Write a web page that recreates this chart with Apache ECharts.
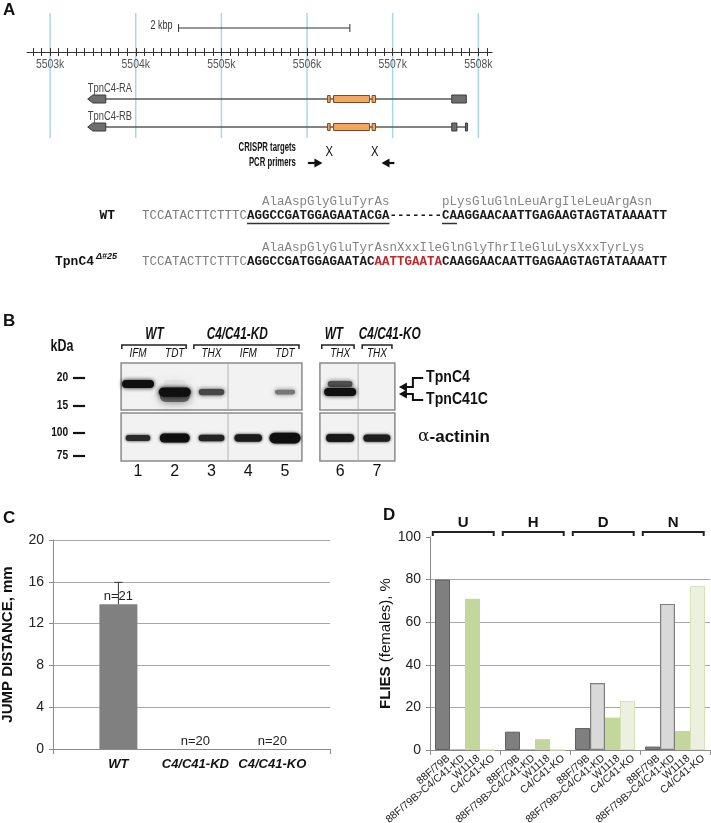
<!DOCTYPE html>
<html><head><meta charset="utf-8">
<script src="https://cdn.jsdelivr.net/npm/echarts@6/dist/echarts.min.js"></script>
<style>html,body{margin:0;padding:0;background:#fff}#c{width:711px;height:823px}</style>
</head><body><div id="c"></div>
<script>
// ================= DATA =================
// Panel A – genomic map (kbp)
const mapMin = 5502.73, mapMax = 5508.16;
const majorTicks = [5503, 5504, 5505, 5506, 5507, 5508];
const scaleBar = [5504.5, 5506.5];
const transcripts = ['TpnC4-RA', 'TpnC4-RB'];
const transcriptSpans = [[5503.44, 5507.86], [5503.44, 5507.87]];
const exons = [ // [transcript, start, end, kind]
  [0, 5503.44, 5503.65, 'arrow'], [0, 5506.24, 5506.27, 'cds'], [0, 5506.31, 5506.73, 'cds'], [0, 5506.76, 5506.80, 'cds'], [0, 5507.69, 5507.86, 'utr'],
  [1, 5503.44, 5503.65, 'arrow'], [1, 5506.24, 5506.27, 'cds'], [1, 5506.31, 5506.73, 'cds'], [1, 5506.76, 5506.80, 'cds'], [1, 5507.69, 5507.75, 'utr'], [1, 5507.85, 5507.87, 'utr']
];
const crisprTargets = [5506.26, 5506.79];
const primers = [[5506.01, 5506.18, 'right'], [5506.87, 5507.02, 'left']];
const annotLabels = ['CRISPR targets', 'PCR primers'];
const annotRight = 5505.87;

// Sequences
const wtSeq = [['TCCATACTTCTTTC', 'p'], ['AGGCCGATGGAGAATACGA', 'b'], ['-------', 'b'], ['CAAGGAACAATTGAGAAGTAGTATAAAATT', 'b']];
const mutSeq = [['TCCATACTTCTTTC', 'p'], ['AGGCCGATGGAGAATAC', 'b'], ['AATTGAATA', 'r'], ['CAAGGAACAATTGAGAAGTAGTATAAAATT', 'b']];
const wtAmino = [['AlaAspGlyGluTyrAs', 16], ['pLysGluGlnLeuArgIleLeuArgAsn', 40]];
const mutAmino = [['AlaAspGlyGluTyrAsnXxxIleGlnGlyThrIleGluLysXxxTyrLys', 16]];
const wtUnderlines = [[14, 33], [40, 42]];

// Panel B – western blot
const laneNumbers = ['1', '2', '3', '4', '5', '6', '7'];
const tissues = ['IFM', 'TDT', 'THX', 'IFM', 'TDT', 'THX', 'THX'];
const blotGroups = [['WT', 1.45, 0.56, 2.31], ['C4/C41-KD', 3.7, 2.52, 5.38], ['WT', 6.33, 6.0, 6.88], ['C4/C41-KO', 7.85, 7.1, 7.91]];
const kdaMarkers = [['20', 15], ['15', 43], ['100', 70], ['75', 93]];
const tpncBands = [[0, 0, 1.0], [1, 1, 1.25], [2, 1, 0.65], [4, 1, 0.35], [5, 0, 0.6], [5, 1, 1.0]]; // [lane, form(0=TpnC4,1=TpnC41C), intensity]
const actininBands = [0.55, 1.0, 0.65, 0.8, 1.25, 0.85, 0.75];
const blotBandNames = ['TpnC4', 'TpnC41C'];

// Panel C – jump distance
const cCategories = ['WT', 'C4/C41-KD', 'C4/C41-KO'];
const cMeans = [13.85, 0, 0];
const cErr = [2.1, 0, 0];
const cN = ['n=21', 'n=20', 'n=20'];

// Panel D – flight test
const dGroups = ['U', 'H', 'D', 'N'];
const dSeries = ['88F/79B', '88F/79B>C4/C41-KD', 'W1118', 'C4/C41-KO'];
const d88F79B = [80, 8.6, 10.3, 1.6];
const dKD = [0, 0, 31.4, 68.6];
const dW1118 = [71, 5.1, 15.2, 8.9];
const dKO = [0, 0, 23, 77];

// ================= LAYOUT / STYLE =================
const SANS = '"Liberation Sans", Arial, sans-serif';
const MONO = '"Liberation Mono", "Courier New", monospace';
const trackY = [86, 114];
const lanePos = [1, 2, 3, 4, 5, 6.5, 7.5];
const bandRowY = [21, 29];
const actininRowY = 75;
const seqX = 142, charW = 7.5;

const minorTicks = [];
for (let t = 55028; t <= 55081; t++) minorTicks.push(t / 10);

function txt(x, y, text, font, fill, align, vAlign, rot, sx) {
  return { type: 'text', x: x, y: y, rotation: rot || 0, scaleX: sx || 1,
    style: { text: text, font: font, fill: fill || '#111', align: align || 'center', verticalAlign: vAlign || 'middle' } };
}
function line(x1, y1, x2, y2, stroke, w) {
  return { type: 'line', shape: { x1, y1, x2, y2 }, style: { stroke: stroke, lineWidth: w || 1 } };
}

// ---- renderers ----
function renderBlue(params, api) {
  const v = majorTicks[params.dataIndex];
  const x = api.coord([v, 0])[0];
  return { type: 'group', children: [
    line(x, api.coord([mapMin, 0])[1], x, api.coord([mapMin, 125])[1], '#a9d7ea', 1.5),
    txt(x, api.coord([mapMin, 51])[1], v + 'k', '13px ' + SANS, '#555', 'center', 'middle', 0, 0.8)
  ] };
}
function renderTranscript(params, api) {
  const t = params.dataIndex;
  const yc = api.coord([mapMin, trackY[t]])[1];
  const x0 = api.coord([transcriptSpans[t][0], 0])[0];
  const x1 = api.coord([transcriptSpans[t][1], 0])[0];
  const ch = [line(x0, yc, x1, yc, '#5a5a5a', 1.5)];
  const h = 8;
  exons.filter(e => e[0] === t).forEach(e => {
    const a = api.coord([e[1], 0])[0], b = api.coord([e[2], 0])[0];
    if (e[3] === 'arrow') {
      ch.push({ type: 'polygon', shape: { points: [[a, yc], [a + 5, yc - h / 2], [b, yc - h / 2], [b, yc + h / 2], [a + 5, yc + h / 2]] },
        style: { fill: '#6e6e6e', stroke: '#3a3a3a', lineWidth: 1 } });
    } else {
      const cds = e[3] === 'cds';
      ch.push({ type: 'rect', shape: { x: a, y: yc - h / 2 + (cds ? 0.5 : 0), width: Math.max(b - a, 2), height: h - (cds ? 1 : 0) },
        style: { fill: cds ? '#f2a661' : '#6e6e6e', stroke: cds ? '#7a4a22' : '#3a3a3a', lineWidth: 1 } });
    }
  });
  ch.push(txt(x0, yc - 11, transcripts[t], '13px ' + SANS, '#444', 'left', 'middle', 0, 0.72));
  return { type: 'group', children: ch };
}
function renderAnnot(params, api) {
  const ch = [];
  const sy = api.coord([mapMin, 15])[1];
  const sa = api.coord([scaleBar[0], 0])[0], sb = api.coord([scaleBar[1], 0])[0];
  ch.push(line(sa, sy, sb, sy, '#333', 1), line(sa, sy - 4, sa, sy + 4, '#333', 1), line(sb, sy - 4, sb, sy + 4, '#333', 1));
  ch.push(txt(sa - 6, sy - 2, '2 kbp', '12px ' + SANS, '#333', 'right', 'middle', 0, 0.75));
  const xr = api.coord([annotRight, 0])[0];
  const yCr = api.coord([mapMin, 135])[1], yPr = api.coord([mapMin, 150])[1];
  ch.push(txt(xr, yCr, annotLabels[0], 'bold 12.5px ' + SANS, '#111', 'right', 'middle', 0, 0.62));
  ch.push(txt(xr, yPr, annotLabels[1], 'bold 12.5px ' + SANS, '#111', 'right', 'middle', 0, 0.62));
  crisprTargets.forEach(v => {
    ch.push(txt(api.coord([v, 0])[0], api.coord([mapMin, 139])[1], 'X', '15px ' + SANS, '#111', 'center', 'middle', 0, 0.75));
  });
  primers.forEach(p => {
    const a = api.coord([p[0], 0])[0], b = api.coord([p[1], 0])[0];
    const y = api.coord([mapMin, 150])[1];
    if (p[2] === 'right') {
      ch.push(line(a, y, b - 6, y, '#111', 2.2));
      ch.push({ type: 'polygon', shape: { points: [[b, y], [b - 8, y - 4.5], [b - 8, y + 4.5]] }, style: { fill: '#111' } });
    } else {
      ch.push(line(a + 6, y, b, y, '#111', 2.2));
      ch.push({ type: 'polygon', shape: { points: [[a, y], [a + 8, y - 4.5], [a + 8, y + 4.5]] }, style: { fill: '#111' } });
    }
  });
  return { type: 'group', children: ch };
}
function renderBlotFrame(params, api) {
  const ch = [];
  const boxes = [[0.54, 5.46, 0, 47], [5.95, 7.99, 0, 47], [0.54, 5.46, 50, 98], [5.95, 7.99, 50, 98]];
  boxes.forEach(b => {
    const p0 = api.coord([b[0], b[2]]), p1 = api.coord([b[1], b[3]]);
    ch.push({ type: 'rect', shape: { x: p0[0], y: p0[1], width: p1[0] - p0[0], height: p1[1] - p0[1] },
      style: { fill: '#f2f2f2', stroke: '#8a8a8a', lineWidth: 1.5 } });
  });
  [[3.45, 0, 47], [6.99, 0, 47], [3.45, 50, 98], [6.99, 50, 98]].forEach(d => {
    const p0 = api.coord([d[0], d[1]]), p1 = api.coord([d[0], d[2]]);
    ch.push(line(p0[0], p0[1] + 1, p1[0], p1[1] - 1, '#b5b5b5', 1));
  });
  return { type: 'group', children: ch };
}
function bandShape(cx, cy, w, h, gray, blur, op) {
  const c = 'rgb(' + gray + ',' + gray + ',' + gray + ')';
  return { type: 'rect', shape: { x: cx - w / 2, y: cy - h / 2, width: w, height: h, r: h / 2 },
    style: { fill: c, shadowBlur: blur, shadowColor: c, opacity: op == null ? 1 : op } };
}
function renderBands(params, api) {
  const ch = [];
  tpncBands.forEach(b => {
    const I = b[2], Ic = Math.min(I, 1);
    const p = api.coord([lanePos[b[0]], bandRowY[b[1]]]);
    const w = 14 + 18 * Ic, h = 3 + 5 * I;
    const g = Math.round(15 + 160 * (1 - Ic));
    if (I > 1.1) {
      ch.push(bandShape(p[0], p[1] + 4, w - 2, 12, 70, 8, 0.75));
      ch.push(bandShape(p[0], p[1] - 9, w - 10, 6, 215, 8, 0.5));
    }
    ch.push(bandShape(p[0], p[1], w, h, g, 4));
  });
  actininBands.forEach((I, i) => {
    const p = api.coord([lanePos[i], actininRowY]);
    const w = 18 + 12 * Math.min(I, 1.1), h = 2 + 7 * I;
    const g = Math.round(15 + 60 * (1 - Math.min(I, 1)));
    ch.push(bandShape(p[0], p[1], w, h, g, 3));
  });
  return { type: 'group', children: ch };
}
function renderBlotText(params, api) {
  const ch = [];
  blotGroups.forEach(g => {
    const pl = api.coord([g[1], -28]);
    ch.push(txt(pl[0], pl[1], g[0], 'italic bold 16px ' + SANS, '#111', 'center', 'middle', 0, 0.74));
    const a = api.coord([g[2], -18]), b = api.coord([g[3], -18]);
    ch.push({ type: 'polyline', shape: { points: [[a[0], a[1] + 4], [a[0], a[1]], [b[0], b[1]], [b[0], b[1] + 4]] }, style: { stroke: '#222', lineWidth: 1.5, fill: null } });
  });
  tissues.forEach((t, i) => {
    const p = api.coord([lanePos[i], -9]);
    ch.push(txt(p[0], p[1], t, 'italic 12.5px ' + SANS, '#111', 'center', 'middle', 0, 0.8));
  });
  laneNumbers.forEach((t, i) => {
    const p = api.coord([lanePos[i], 109]);
    ch.push(txt(p[0], p[1], t, '16px ' + SANS, '#111'));
  });
  const k = api.coord([-1.07, -16]);
  ch.push(txt(k[0], k[1], 'kDa', 'bold 16px ' + SANS, '#111', 'center', 'middle', 0, 0.78));
  kdaMarkers.forEach(m => {
    const p = api.coord([-0.9, m[1]]), a = api.coord([-0.77, m[1]]), b = api.coord([-0.44, m[1]]);
    ch.push(txt(p[0], p[1], m[0], 'bold 12px ' + SANS, '#111', 'right', 'middle', 0, 0.85));
    ch.push(line(a[0], a[1], b[0], b[1], '#111', 2.2));
  });
  [[24, 15], [31, 37]].forEach((r, i) => {
    const tip = api.coord([8.1, r[0]]), mid = api.coord([8.48, r[0]]), midE = api.coord([8.48, r[1]]), end = api.coord([8.76, r[1]]);
    ch.push({ type: 'polyline', shape: { points: [[tip[0] + 6, tip[1]], mid, midE, end] }, style: { stroke: '#111', lineWidth: 2, fill: null } });
    ch.push({ type: 'polygon', shape: { points: [[tip[0], tip[1]], [tip[0] + 8, tip[1] - 4.5], [tip[0] + 8, tip[1] + 4.5]] }, style: { fill: '#111' } });
    const lp = api.coord([8.84, r[1]]);
    ch.push(txt(lp[0], lp[1], blotBandNames[i], 'bold 16px ' + SANS, '#111', 'left', 'middle', 0, 0.88));
  });
  const ap = api.coord([8.62, 74]);
  ch.push({ type: 'text', x: ap[0], y: ap[1], style: { text: '{a|α}{t|-actinin}', align: 'left', verticalAlign: 'middle',
    rich: { a: { font: '17px "DejaVu Serif", serif', fill: '#111' }, t: { font: 'bold 17px ' + SANS, fill: '#111' } } } });
  return { type: 'group', children: ch };
}
function renderErr(params, api) {
  const i = params.dataIndex;
  if (!cErr[i]) return null;
  const b = api.coord([i, cMeans[i]]), t = api.coord([i, cMeans[i] + cErr[i]]);
  return { type: 'group', children: [line(b[0], b[1], t[0], t[1], '#333', 1), line(t[0] - 4, t[1], t[0] + 4, t[1], '#333', 1)] };
}
const groupPad = 5 / 70, barFrac = 15 / 70;
function renderDLabels(params, api) {
  const ch = [];
  dGroups.forEach((g, gi) => {
    dSeries.forEach((s, si) => {
      const p = api.coord([gi + groupPad + barFrac * (si + 0.5), 0]);
      ch.push(txt(p[0] + 6, p[1] + 7, s, '10.5px ' + SANS, '#222', 'right', 'middle', 40 * Math.PI / 180));
    });
  });
  return { type: 'group', children: ch };
}
function renderDBrackets(params, api) {
  const ch = [];
  dGroups.forEach((g, gi) => {
    const a = api.coord([gi + 0.04, 100]), b = api.coord([gi + 0.91, 100]);
    const y = a[1] - 5;
    ch.push({ type: 'polyline', shape: { points: [[a[0], y + 4], [a[0], y], [b[0], y], [b[0], y + 4]] }, style: { stroke: '#222', lineWidth: 2, fill: null } });
    ch.push(txt((a[0] + b[0]) / 2, y - 9, g, 'bold 15px ' + SANS, '#111'));
  });
  return { type: 'group', children: ch };
}

function richSeq(segs) { return segs.map(s => '{' + s[1] + '|' + s[0] + '}').join(''); }
const seqRich = {
  p: { fontFamily: MONO, fontSize: 12.5, fill: '#7a7a7a' },
  b: { fontFamily: MONO, fontSize: 12.5, fontWeight: 'bold', fill: '#1a1a1a' },
  r: { fontFamily: MONO, fontSize: 12.5, fontWeight: 'bold', fill: '#c1272d' }
};
const rows = { wtAmino: 202, wtSeq: 216, mutAmino: 248, mutSeq: 262 };
const graphics = [
  { type: 'text', left: 3, top: 2, style: { text: 'A', font: 'bold 17px ' + SANS, fill: '#111' } },
  { type: 'text', left: 3, top: 313, style: { text: 'B', font: 'bold 17px ' + SANS, fill: '#111' } },
  { type: 'text', left: 3, top: 510, style: { text: 'C', font: 'bold 17px ' + SANS, fill: '#111' } },
  { type: 'text', left: 383, top: 507, style: { text: 'D', font: 'bold 17px ' + SANS, fill: '#111' } },
  { type: 'text', x: 115, y: rows.wtSeq, style: { text: 'WT', font: 'bold 13px ' + MONO, fill: '#111', align: 'right', verticalAlign: 'middle' } },
  { type: 'text', x: 94, y: rows.mutSeq, style: { text: 'TpnC4', font: 'bold 13px ' + MONO, fill: '#111', align: 'right', verticalAlign: 'middle' } },
  { type: 'text', x: 96, y: rows.mutSeq - 5, style: { text: 'Δ#25', font: 'italic bold 9px ' + SANS, fill: '#111', align: 'left', verticalAlign: 'middle' } },
  { type: 'text', x: seqX, y: rows.wtSeq, style: { text: richSeq(wtSeq), rich: seqRich, verticalAlign: 'middle', align: 'left' } },
  { type: 'text', x: seqX, y: rows.mutSeq, style: { text: richSeq(mutSeq), rich: seqRich, verticalAlign: 'middle', align: 'left' } }
];
wtAmino.forEach(a => graphics.push({ type: 'text', x: seqX + a[1] * charW, y: rows.wtAmino, style: { text: a[0], font: '12.5px ' + MONO, fill: '#858585', verticalAlign: 'middle' } }));
mutAmino.forEach(a => graphics.push({ type: 'text', x: seqX + a[1] * charW, y: rows.mutAmino, style: { text: a[0], font: '12.5px ' + MONO, fill: '#858585', verticalAlign: 'middle' } }));
wtUnderlines.forEach(u => graphics.push({ type: 'line', shape: { x1: seqX + u[0] * charW, y1: rows.wtSeq + 7.5, x2: seqX + u[1] * charW, y2: rows.wtSeq + 7.5 }, style: { stroke: '#333', lineWidth: 1.5 } }));

const axisGrey = '#8c8c8c';
const dColors = [
  { color: '#7f7f7f', borderColor: '#606060', borderWidth: 1 },
  { color: '#d9d9d9', borderColor: '#7f7f7f', borderWidth: 1.2 },
  { color: '#c3d69b', borderColor: '#c3d69b', borderWidth: 0 },
  { color: '#ebf1de', borderColor: '#d5e2b8', borderWidth: 1 }
];
const dData = [d88F79B, dKD, dW1118, dKO];

const option = {
  animation: false,
  backgroundColor: '#ffffff',
  textStyle: { fontFamily: SANS },
  grid: [
    { left: 27, right: 219, top: 0, height: 52, outerBoundsMode: 'none' },
    { left: 27, right: 219, top: 13, height: 157, outerBoundsMode: 'none' },
    { left: 119.625, width: 275.625, top: 363, height: 98, outerBoundsMode: 'none' },
    { left: 53, width: 277, top: 540, height: 209, outerBoundsMode: 'none' },
    { left: 430, width: 280, top: 537, height: 213, outerBoundsMode: 'none' }
  ],
  xAxis: [
    { gridIndex: 0, type: 'value', min: mapMin, max: mapMax, position: 'bottom', z: 10,
      axisLine: { onZero: false, lineStyle: { color: '#333', width: 1.2 } }, axisTick: { show: false }, splitLine: { show: false },
      axisLabel: { show: false } },
    { gridIndex: 0, type: 'value', min: mapMin, max: mapMax, position: 'bottom', offset: -4, z: 10,
      axisLine: { show: false, onZero: false }, axisTick: { show: true, customValues: minorTicks, length: 8, lineStyle: { color: '#333', width: 1 } },
      axisLabel: { show: false }, splitLine: { show: false } },
    { gridIndex: 1, type: 'value', min: mapMin, max: mapMax, show: false },
    { gridIndex: 2, type: 'value', min: 0.5, max: 8, show: false },
    { gridIndex: 3, type: 'value', min: -0.85, max: 2.75, splitLine: { show: false },
      axisLine: { show: true, onZero: false, lineStyle: { color: axisGrey } },
      axisTick: { show: true, customValues: [-0.85, 2.75], length: 5, lineStyle: { color: axisGrey } },
      axisLabel: { customValues: [0, 1, 2], formatter: v => cCategories[Math.round(v)], hideOverlap: false, showMinLabel: true, showMaxLabel: true,
        fontStyle: 'italic', fontWeight: 'bold', fontSize: 13, color: '#111', margin: 9 } },
    { gridIndex: 4, type: 'category', data: dGroups,
      axisLine: { show: true, onZero: false, lineStyle: { color: axisGrey } }, axisTick: { show: true, length: 5, lineStyle: { color: axisGrey } },
      axisLabel: { show: false } },
    { gridIndex: 4, type: 'value', min: 0, max: 4, show: false }
  ],
  yAxis: [
    { gridIndex: 0, type: 'value', min: 0, max: 1, show: false },
    { gridIndex: 1, type: 'value', min: 0, max: 157, inverse: true, show: false },
    { gridIndex: 2, type: 'value', min: 0, max: 98, inverse: true, show: false },
    { gridIndex: 3, type: 'value', min: 0, max: 20, interval: 4,
      axisLine: { show: true, onZero: false, lineStyle: { color: axisGrey } }, axisTick: { show: true, length: 4, lineStyle: { color: axisGrey } },
      axisLabel: { fontSize: 14, color: '#222', margin: 9 },
      splitLine: { show: true, lineStyle: { color: '#a8a8a8' } },
      name: 'JUMP DISTANCE, mm', nameLocation: 'middle', nameGap: 38, nameRotate: 90,
      nameTextStyle: { fontWeight: 'bold', fontSize: 15, color: '#111', fontFamily: SANS } },
    { gridIndex: 4, type: 'value', min: 0, max: 100, interval: 20,
      axisLine: { show: true, onZero: false, lineStyle: { color: axisGrey } }, axisTick: { show: true, length: 4, lineStyle: { color: axisGrey } },
      axisLabel: { fontSize: 14, color: '#222', margin: 9 },
      splitLine: { show: true, showMaxLine: false, lineStyle: { color: '#a8a8a8' } },
      name: '{b|FLIES} (females), %', nameLocation: 'middle', nameGap: 37, nameRotate: 90,
      nameTextStyle: { fontSize: 15, color: '#111', fontFamily: SANS, rich: { b: { fontWeight: 'bold', fontSize: 15, color: '#111', fontFamily: SANS } } } }
  ],
  graphic: graphics,
  series: [
    { type: 'custom', name: 'kbp lines', xAxisIndex: 2, yAxisIndex: 1, z: 1, clip: false, data: majorTicks.map((v, i) => [v, 0]), renderItem: renderBlue, silent: true },
    { type: 'custom', name: 'transcripts', xAxisIndex: 2, yAxisIndex: 1, z: 3, clip: false, data: transcripts.map((t, i) => [transcriptSpans[i][0], trackY[i]]), renderItem: renderTranscript },
    { type: 'custom', name: 'annotations', xAxisIndex: 2, yAxisIndex: 1, z: 3, clip: false, data: [[scaleBar[0], 15]], renderItem: renderAnnot },
    { type: 'custom', name: 'blot frame', xAxisIndex: 3, yAxisIndex: 2, z: 1, clip: false, data: [[1, 0]], renderItem: renderBlotFrame },
    { type: 'custom', name: 'blot bands', xAxisIndex: 3, yAxisIndex: 2, z: 2, clip: false, data: [[1, 0]], renderItem: renderBands },
    { type: 'custom', name: 'blot labels', xAxisIndex: 3, yAxisIndex: 2, z: 3, clip: false, data: [[1, 0]], renderItem: renderBlotText },
    { type: 'bar', name: 'jump', xAxisIndex: 4, yAxisIndex: 3, data: cMeans.map((v, i) => [i, v]), barWidth: 38,
      itemStyle: { color: '#808080' },
      label: { show: true, position: 'top', distance: 1, formatter: p => cN[p.dataIndex], fontSize: 13, color: '#222', fontFamily: SANS } },
    { type: 'custom', name: 'err', xAxisIndex: 4, yAxisIndex: 3, z: 4, clip: false, data: cMeans.map((v, i) => [i, v]), renderItem: renderErr },
    ...dSeries.map((s, si) => ({ type: 'bar', name: s, xAxisIndex: 5, yAxisIndex: 4, data: dData[si], barGap: '0%', barCategoryGap: '14.3%', itemStyle: dColors[si] })),
    { type: 'custom', name: 'dlabels', xAxisIndex: 6, yAxisIndex: 4, clip: false, data: [[0, 0]], renderItem: renderDLabels },
    { type: 'custom', name: 'dbrackets', xAxisIndex: 6, yAxisIndex: 4, clip: false, data: [[0, 100]], renderItem: renderDBrackets }
  ]
};
const chart = echarts.init(document.getElementById('c'), null, { renderer: 'canvas', width: 711, height: 823 });
chart.setOption(option);
</script>
</body></html>
